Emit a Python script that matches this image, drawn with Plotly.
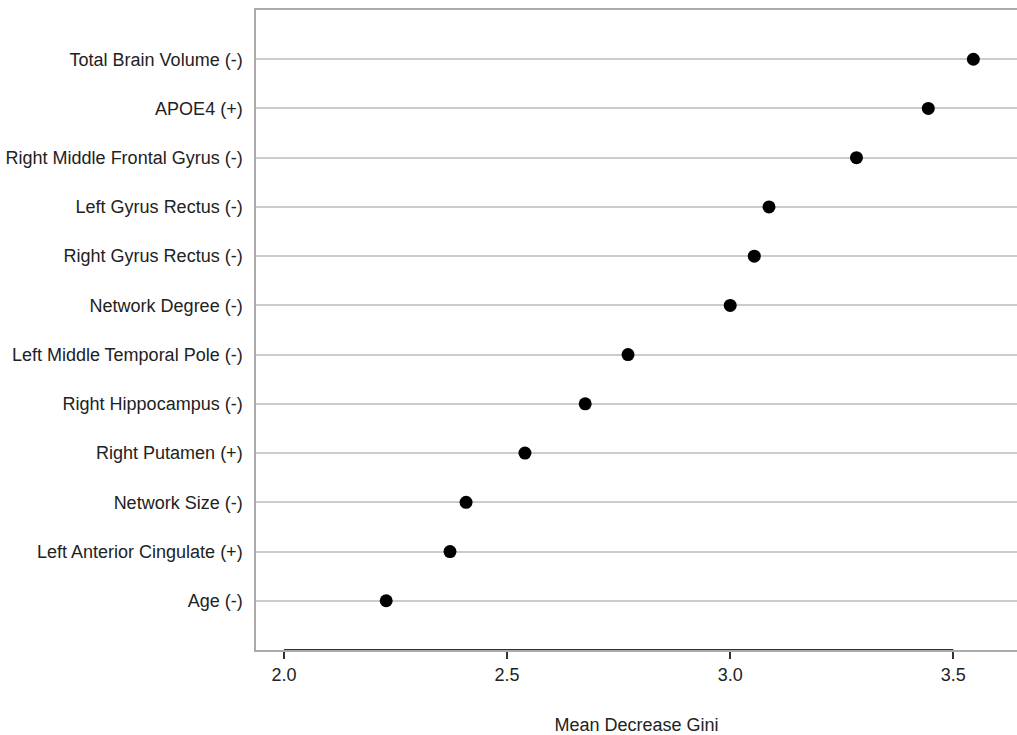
import plotly.graph_objects as go

features = [
    "Age (-)",
    "Left Anterior Cingulate (+)",
    "Network Size (-)",
    "Right Putamen (+)",
    "Right Hippocampus (-)",
    "Left Middle Temporal Pole (-)",
    "Network Degree (-)",
    "Right Gyrus Rectus (-)",
    "Left Gyrus Rectus (-)",
    "Right Middle Frontal Gyrus (-)",
    "APOE4 (+)",
    "Total Brain Volume (-)",
]
gini = [2.229, 2.372, 2.408, 2.540, 2.675, 2.771, 3.000, 3.054, 3.087, 3.283, 3.444, 3.545]
x_ticks = [2.0, 2.5, 3.0, 3.5]
x_ticklabels = ["2.0", "2.5", "3.0", "3.5"]

fig = go.Figure()
fig.add_trace(go.Scatter(
    x=gini, y=features, mode="markers",
    marker=dict(color="black", size=13),
    showlegend=False,
))

font = "Liberation Sans, Arial, sans-serif"
fig.update_layout(
    width=1017, height=735,
    margin=dict(l=256, r=0, t=10, b=85),
    plot_bgcolor="white", paper_bgcolor="white",
    font=dict(family=font, size=18, color="#222222"),
    xaxis=dict(
        range=[1.9372, 3.6428],
        tickvals=x_ticks, ticktext=x_ticklabels,
        ticks="outside", ticklen=7, tickcolor="#333333", tickwidth=2,
        ticklabelstandoff=1,
        showgrid=False, zeroline=False,
        showline=True, linecolor="#aaaaaa", linewidth=1.5, mirror=True,
        title=dict(text="Mean Decrease Gini", standoff=34, font=dict(size=18)),
        tickfont=dict(size=18),
    ),
    yaxis=dict(
        type="category", categoryorder="array", categoryarray=features,
        range=[-1, 12],
        showgrid=True, gridcolor="#cccccc", gridwidth=1.5,
        zeroline=False,
        showline=True, linecolor="#aaaaaa", linewidth=1.5,
        ticks="outside", ticklen=8, tickcolor="rgba(0,0,0,0)",
        tickfont=dict(size=18),
    ),
)
fig.add_shape(type="line", xref="x", yref="paper", layer="below",
              x0=x_ticks[0], x1=x_ticks[-1], y0=0, y1=0,
              line=dict(color="#333333", width=2))

fig.write_html(
    "out.html",
    config={"displayModeBar": False},
    post_script="document.body.style.margin='0';document.body.style.overflow='hidden';",
)
